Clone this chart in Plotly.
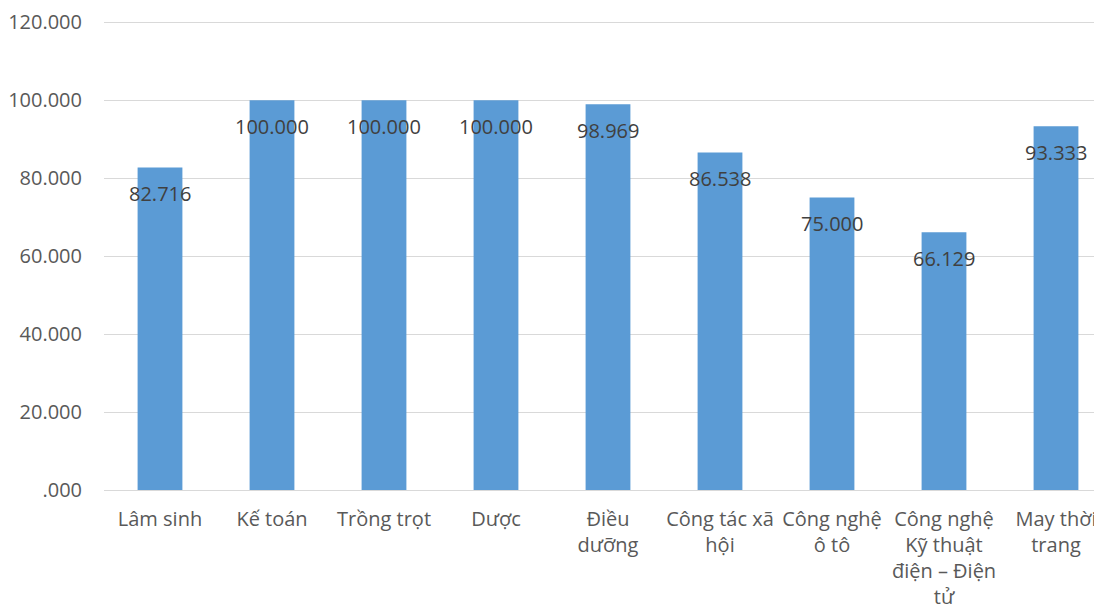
import plotly.graph_objects as go

categories = ["Lâm sinh", "Kế toán", "Trồng trọt", "Dược", "Điều<br>dưỡng",
              "Công tác xã<br>hội", "Công nghệ<br>ô tô",
              "Công nghệ<br>Kỹ thuật<br>điện – Điện<br>tử", "May thời<br>trang"]
values = [82.716, 100.000, 100.000, 100.000, 98.969, 86.538, 75.000, 66.129, 93.333]
y_tickvals = [0, 20, 40, 60, 80, 100, 120]
y_ticktext = [".000", "20.000", "40.000", "60.000", "80.000", "100.000", "120.000"]

FONT = "Open Sans"
x = list(range(len(categories)))

fig = go.Figure()
fig.add_trace(go.Bar(x=x, y=values, width=0.4, marker=dict(color="#5B9BD5", line=dict(width=0)),
                     hoverinfo="skip"))

for xi, v in zip(x, values):
    fig.add_annotation(x=xi, y=v, text=f"{v:.3f}", showarrow=False, yanchor="middle",
                       yshift=-26, font=dict(family=FONT, size=20, color="#404040"))

fig.update_layout(
    width=1094, height=603,
    margin=dict(l=96, r=0, t=9, b=121),
    paper_bgcolor="white", plot_bgcolor="white",
    showlegend=False,
    font=dict(family=FONT, size=20, color="#595959"),
)
fig.update_xaxes(tickvals=x, ticktext=categories, range=[-0.5, -0.5 + 998/112],
                 showgrid=False, zeroline=False, showline=False, ticks="",
                 ticklabelstandoff=15, tickfont=dict(family=FONT, size=20, color="#595959"))
fig.update_yaxes(range=[0, 120.3], tickvals=y_tickvals, ticktext=y_ticktext,
                 showgrid=True, gridcolor="#D9D9D9", gridwidth=1.3,
                 zeroline=True, zerolinecolor="#D9D9D9", zerolinewidth=1.3,
                 showline=False, ticks="", ticklabelstandoff=21,
                 ticklabeloverflow="allow",
                 tickfont=dict(family=FONT, size=20, color="#595959"))

fig.write_html("out.html")
